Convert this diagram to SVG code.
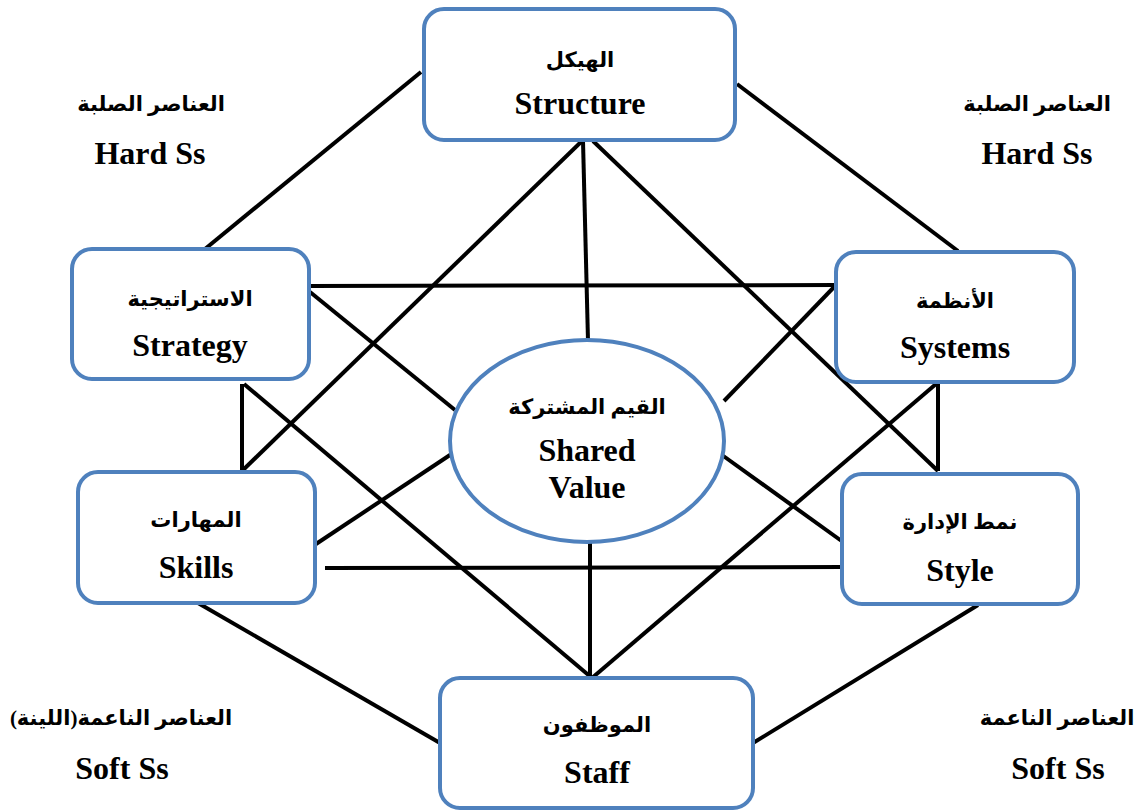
<svg xmlns="http://www.w3.org/2000/svg" width="1139" height="812" viewBox="0 0 1139 812">
  <style>
    .box { fill: #ffffff; stroke: #4f81bd; stroke-width: 4; }
    .link { stroke: #000000; stroke-width: 4; fill: none; stroke-linecap: butt; }
    .en { font-family: "Liberation Serif", "Times New Roman", serif; font-weight: bold; font-size: 32px; fill: #000; text-anchor: middle; }
    .ar { font-family: "Liberation Serif", "DejaVu Sans", "Noto Sans", serif; font-weight: bold; font-size: 21px; fill: #000; text-anchor: middle; direction: rtl; }
  </style>
  <rect width="1139" height="812" fill="#ffffff"/>

  <!-- connectors between the seven elements -->
  <g id="connectors">
    <line class="link" x1="421" y1="72" x2="205" y2="249"/>
    <line class="link" x1="737" y1="84" x2="958" y2="251"/>
    <line class="link" x1="582" y1="141" x2="242" y2="471"/>
    <line class="link" x1="583" y1="141" x2="588" y2="341"/>
    <line class="link" x1="593" y1="141" x2="938" y2="471"/>
    <line class="link" x1="310" y1="286" x2="836" y2="285"/>
    <line class="link" x1="310" y1="292" x2="455" y2="410"/>
    <line class="link" x1="836" y1="285" x2="724" y2="401"/>
    <line class="link" x1="722" y1="455" x2="843" y2="542"/>
    <line class="link" x1="453" y1="453" x2="316" y2="544"/>
    <line class="link" x1="242" y1="384" x2="242" y2="471"/>
    <line class="link" x1="244" y1="384" x2="592" y2="678"/>
    <line class="link" x1="938" y1="384" x2="938" y2="471"/>
    <line class="link" x1="936" y1="384" x2="592" y2="678"/>
    <line class="link" x1="590" y1="542" x2="590" y2="678"/>
    <line class="link" x1="325" y1="568" x2="842" y2="567"/>
    <line class="link" x1="198" y1="603" x2="440" y2="743"/>
    <line class="link" x1="978" y1="605" x2="753" y2="743"/>
  </g>

  <g id="structure">
    <rect class="box" x="424" y="9" width="311" height="131" rx="20"/>
    <text class="ar" x="580" y="67">الهيكل</text>
    <text class="en" x="580" y="114">Structure</text>
  </g>

  <g id="strategy">
    <rect class="box" x="72" y="249" width="237" height="130" rx="20"/>
    <text class="ar" x="190" y="306">الاستراتيجية</text>
    <text class="en" x="190" y="356">Strategy</text>
  </g>

  <g id="systems">
    <rect class="box" x="836" y="252" width="238" height="130" rx="20"/>
    <text class="ar" x="955" y="308">الأنظمة</text>
    <text class="en" x="955" y="358">Systems</text>
  </g>

  <g id="shared-value">
    <ellipse class="box" cx="587" cy="441" rx="137" ry="101"/>
    <text class="ar" x="587" y="414">القيم المشتركة</text>
    <text class="en" x="587" y="461">Shared</text>
    <text class="en" x="587" y="498">Value</text>
  </g>

  <g id="skills">
    <rect class="box" x="78" y="472" width="237" height="131" rx="20"/>
    <text class="ar" x="196" y="527">المهارات</text>
    <text class="en" x="196" y="578">Skills</text>
  </g>

  <g id="style">
    <rect class="box" x="842" y="474" width="236" height="130" rx="20"/>
    <text class="ar" x="960" y="529">نمط الإدارة</text>
    <text class="en" x="960" y="581">Style</text>
  </g>

  <g id="staff">
    <rect class="box" x="440" y="678" width="313" height="130" rx="20"/>
    <text class="ar" x="597" y="732">الموظفون</text>
    <text class="en" x="597" y="783">Staff</text>
  </g>

  <!-- category captions -->
  <g id="hard-left">
    <text class="ar" x="151" y="111">العناصر الصلبة</text>
    <text class="en" x="150" y="164">Hard Ss</text>
  </g>
  <g id="hard-right">
    <text class="ar" x="1037" y="111">العناصر الصلبة</text>
    <text class="en" x="1037" y="164">Hard Ss</text>
  </g>
  <g id="soft-left">
    <text class="ar" x="121" y="725">العناصر الناعمة(اللينة)</text>
    <text class="en" x="122" y="779">Soft Ss</text>
  </g>
  <g id="soft-right">
    <text class="ar" x="1057" y="725">العناصر الناعمة</text>
    <text class="en" x="1058" y="779">Soft Ss</text>
  </g>
</svg>
